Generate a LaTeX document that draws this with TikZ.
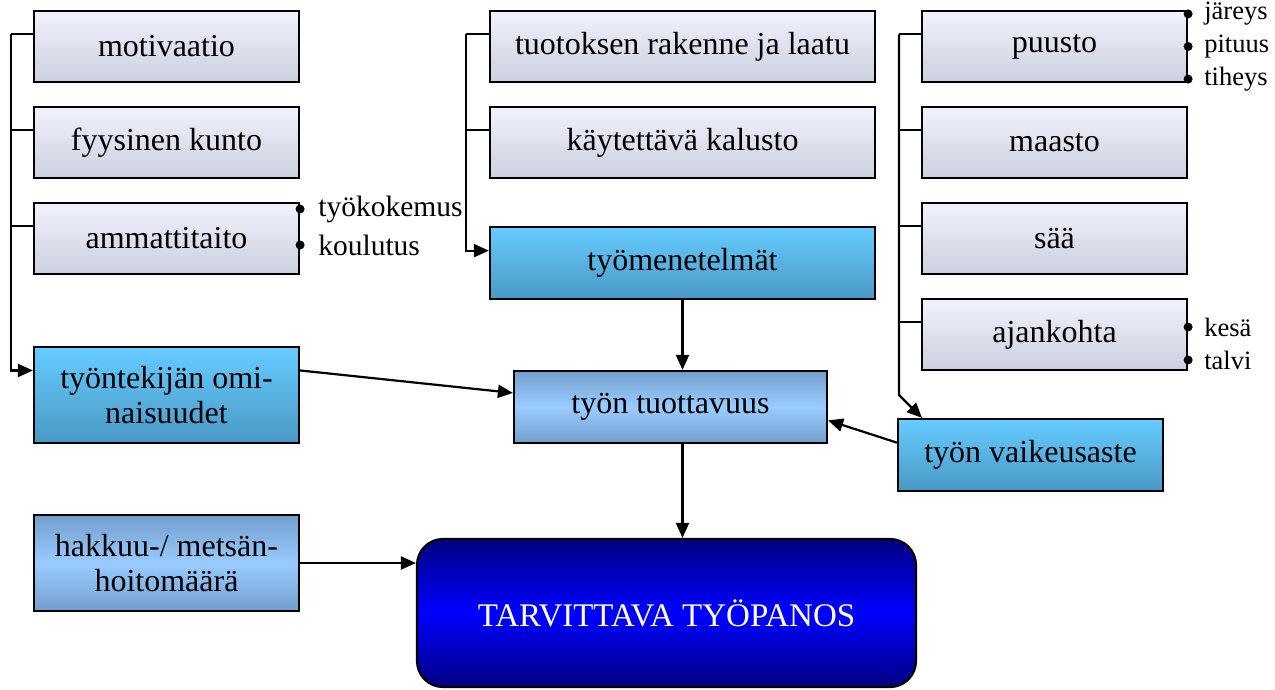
\documentclass[tikz,border=0pt]{standalone}
\usepackage{fontspec}
\setmainfont{Liberation Serif}
\usetikzlibrary{arrows.meta,calc}
\definecolor{graytop}{RGB}{240,242,252}
\definecolor{graybot}{RGB}{204,208,222}
\definecolor{cyantop}{RGB}{102,204,255}
\definecolor{cyanbot}{RGB}{74,152,196}
\definecolor{midedge}{RGB}{115,158,204}
\definecolor{midmid}{RGB}{153,204,255}
\definecolor{bigedge}{RGB}{0,0,128}
\definecolor{bigmid}{RGB}{0,0,255}
\tikzset{
  box/.style={draw=black, line width=2.2pt, inner sep=0pt, align=center, font=\fontsize{32}{35}\selectfont},
  graybox/.style={box, minimum width=265pt, minimum height=71pt, top color=graytop, bottom color=graybot},
  widebox/.style={box, minimum width=385pt, minimum height=71pt, top color=graytop, bottom color=graybot},
  cyanbox/.style={box, top color=cyantop, bottom color=cyanbot},
  midbox/.style={box, top color=midedge, bottom color=midedge, middle color=midmid},
  bigbox/.style={box, rounded corners=26pt, top color=bigedge, bottom color=bigedge, middle color=bigmid, text=white, font=\fontsize{33}{36}\selectfont},
  arr/.style={-{Triangle[length=15pt,width=13pt]}, line width=2.2pt},
  conn/.style={line width=2.2pt},
  bul/.style={fill=black},
  btext/.style={anchor=west, inner sep=0pt, font=\fontsize{26.5}{30}\selectfont},
  btextl/.style={btext, font=\fontsize{29.5}{32}\selectfont}
}
\begin{document}
\begin{tikzpicture}[x=1pt,y=-1pt]
\useasboundingbox (0,0) rectangle (1275,689);
% left column
\node[graybox] (mot) at (166.5,46.5) {motivaatio};
\node[graybox] (fyy) at (166.5,142.5) {fyysinen kunto};
\node[graybox] (amm) at (166.5,238.5) {ammattitaito};
\node[cyanbox, minimum width=265pt, minimum height=96pt] (tyo) at (166.5,395) {työntekijän omi-\\naisuudet};
\node[midbox, minimum width=265pt, minimum height=96pt] (hak) at (166.5,563) {hakkuu-/ metsän-\\hoitomäärä};
% middle column
\node[widebox] (tuo) at (682.5,46.5) {tuotoksen rakenne ja laatu};
\node[widebox] (kay) at (682.5,142.5) {käytettävä kalusto};
\node[cyanbox, minimum width=385pt, minimum height=72pt] (men) at (682.5,263) {työmenetelmät};
\node[midbox, minimum width=313pt, minimum height=72pt] (tuot) at (670.5,407) {työn tuottavuus};
\node[bigbox, minimum width=499pt, minimum height=148pt] (big) at (666.5,613) {TARVITTAVA TYÖPANOS};
% right column
\node[graybox] (puu) at (1054.5,46.5) {puusto};
\node[graybox] (maa) at (1054.5,142.5) {maasto};
\node[graybox] (saa) at (1054.5,238.5) {sää};
\node[graybox] (aja) at (1054.5,334.5) {ajankohta};
\node[cyanbox, minimum width=265pt, minimum height=72pt] (vai) at (1030.5,455) {työn vaikeusaste};
% left bracket
\coordinate (lb1) at ($(mot.north west)!1/3!(mot.south west)$);
\coordinate (lb2) at ($(fyy.north west)!1/3!(fyy.south west)$);
\coordinate (lb3) at ($(amm.north west)!1/3!(amm.south west)$);
\coordinate (lb4) at ($(tyo.north west)!0.25!(tyo.south west)$);
\coordinate (lx) at (11,0);
\draw[conn] (lb1) -- (lx |- lb1);
\draw[conn] (lb2) -- (lx |- lb2);
\draw[conn] (lb3) -- (lx |- lb3);
\draw[arr] (lx |- lb1) -- (lx |- lb4) -- (lb4);
% middle bracket
\coordinate (mb1) at ($(tuo.north west)!1/3!(tuo.south west)$);
\coordinate (mb2) at ($(kay.north west)!1/3!(kay.south west)$);
\coordinate (mb3) at ($(men.north west)!1/3!(men.south west)$);
\coordinate (mx) at (466,0);
\draw[conn] (mb1) -- (mx |- mb1);
\draw[conn] (mb2) -- (mx |- mb2);
\draw[arr] (mx |- mb1) -- (mx |- mb3) -- (mb3);
% right bracket
\coordinate (rb1) at ($(puu.north west)!1/3!(puu.south west)$);
\coordinate (rb2) at ($(maa.north west)!1/3!(maa.south west)$);
\coordinate (rb3) at ($(saa.north west)!1/3!(saa.south west)$);
\coordinate (rb4) at ($(aja.north west)!1/3!(aja.south west)$);
\coordinate (rx) at (899,0);
\coordinate (rbend) at (899,395);
\coordinate (rtip) at (922,0);
\draw[conn] (rb1) -- (rx |- rb1);
\draw[conn] (rb2) -- (rx |- rb2);
\draw[conn] (rb3) -- (rx |- rb3);
\draw[conn] (rb4) -- (rx |- rb4);
\draw[arr] (rx |- rb1) -- (rbend) -- (rtip |- vai.north);
% main arrows
\draw[arr] (men.south) -- (men.south |- tuot.north);
\draw[arr] (men.south |- tuot.south) -- (men.south |- big.north);
\draw[arr] ($(tyo.north east)!0.25!(tyo.south east)$) -- ($(tuot.north west)!0.31!(tuot.south west)$);
\draw[arr] ($(vai.north west)!1/3!(vai.south west)$) -- ($(tuot.north east)!0.68!(tuot.south east)$);
\draw[arr] (hak.east) -- (hak.east -| big.west);
% bullets
\fill[bul] ($(amm.east)+(0,-29.5)$) coordinate (ba1) circle (4.5pt);
\fill[bul] ($(amm.east)+(0,6.5)$) coordinate (ba2) circle (4.5pt);
\node[btextl] (t1) at ($(ba1)+(18,0)$) {työkokemus};
\node[btextl] (t2) at ($(ba2)+(18,0)$) {koulutus};
\fill[bul] ($(puu.north east)+(0,4)$) coordinate (bp1) circle (4.5pt);
\fill[bul] ($(puu.east)$) coordinate (bp2) circle (4.5pt);
\fill[bul] ($(puu.south east)+(0,-4)$) coordinate (bp3) circle (4.5pt);
\node[btext] (t3) at ($(bp1)+(16,0)$) {järeys};
\node[btext] (t4) at ($(bp2)+(16,0)$) {pituus};
\node[btext] (t5) at ($(bp3)+(16,0)$) {tiheys};
\fill[bul] ($(aja.east)+(0,-7.5)$) coordinate (bk1) circle (4.5pt);
\fill[bul] ($(aja.east)+(0,25.5)$) coordinate (bk2) circle (4.5pt);
\node[btext] (t6) at ($(bk1)+(16,0)$) {kesä};
\node[btext] (t7) at ($(bk2)+(16,0)$) {talvi};
\end{tikzpicture}
\end{document}
